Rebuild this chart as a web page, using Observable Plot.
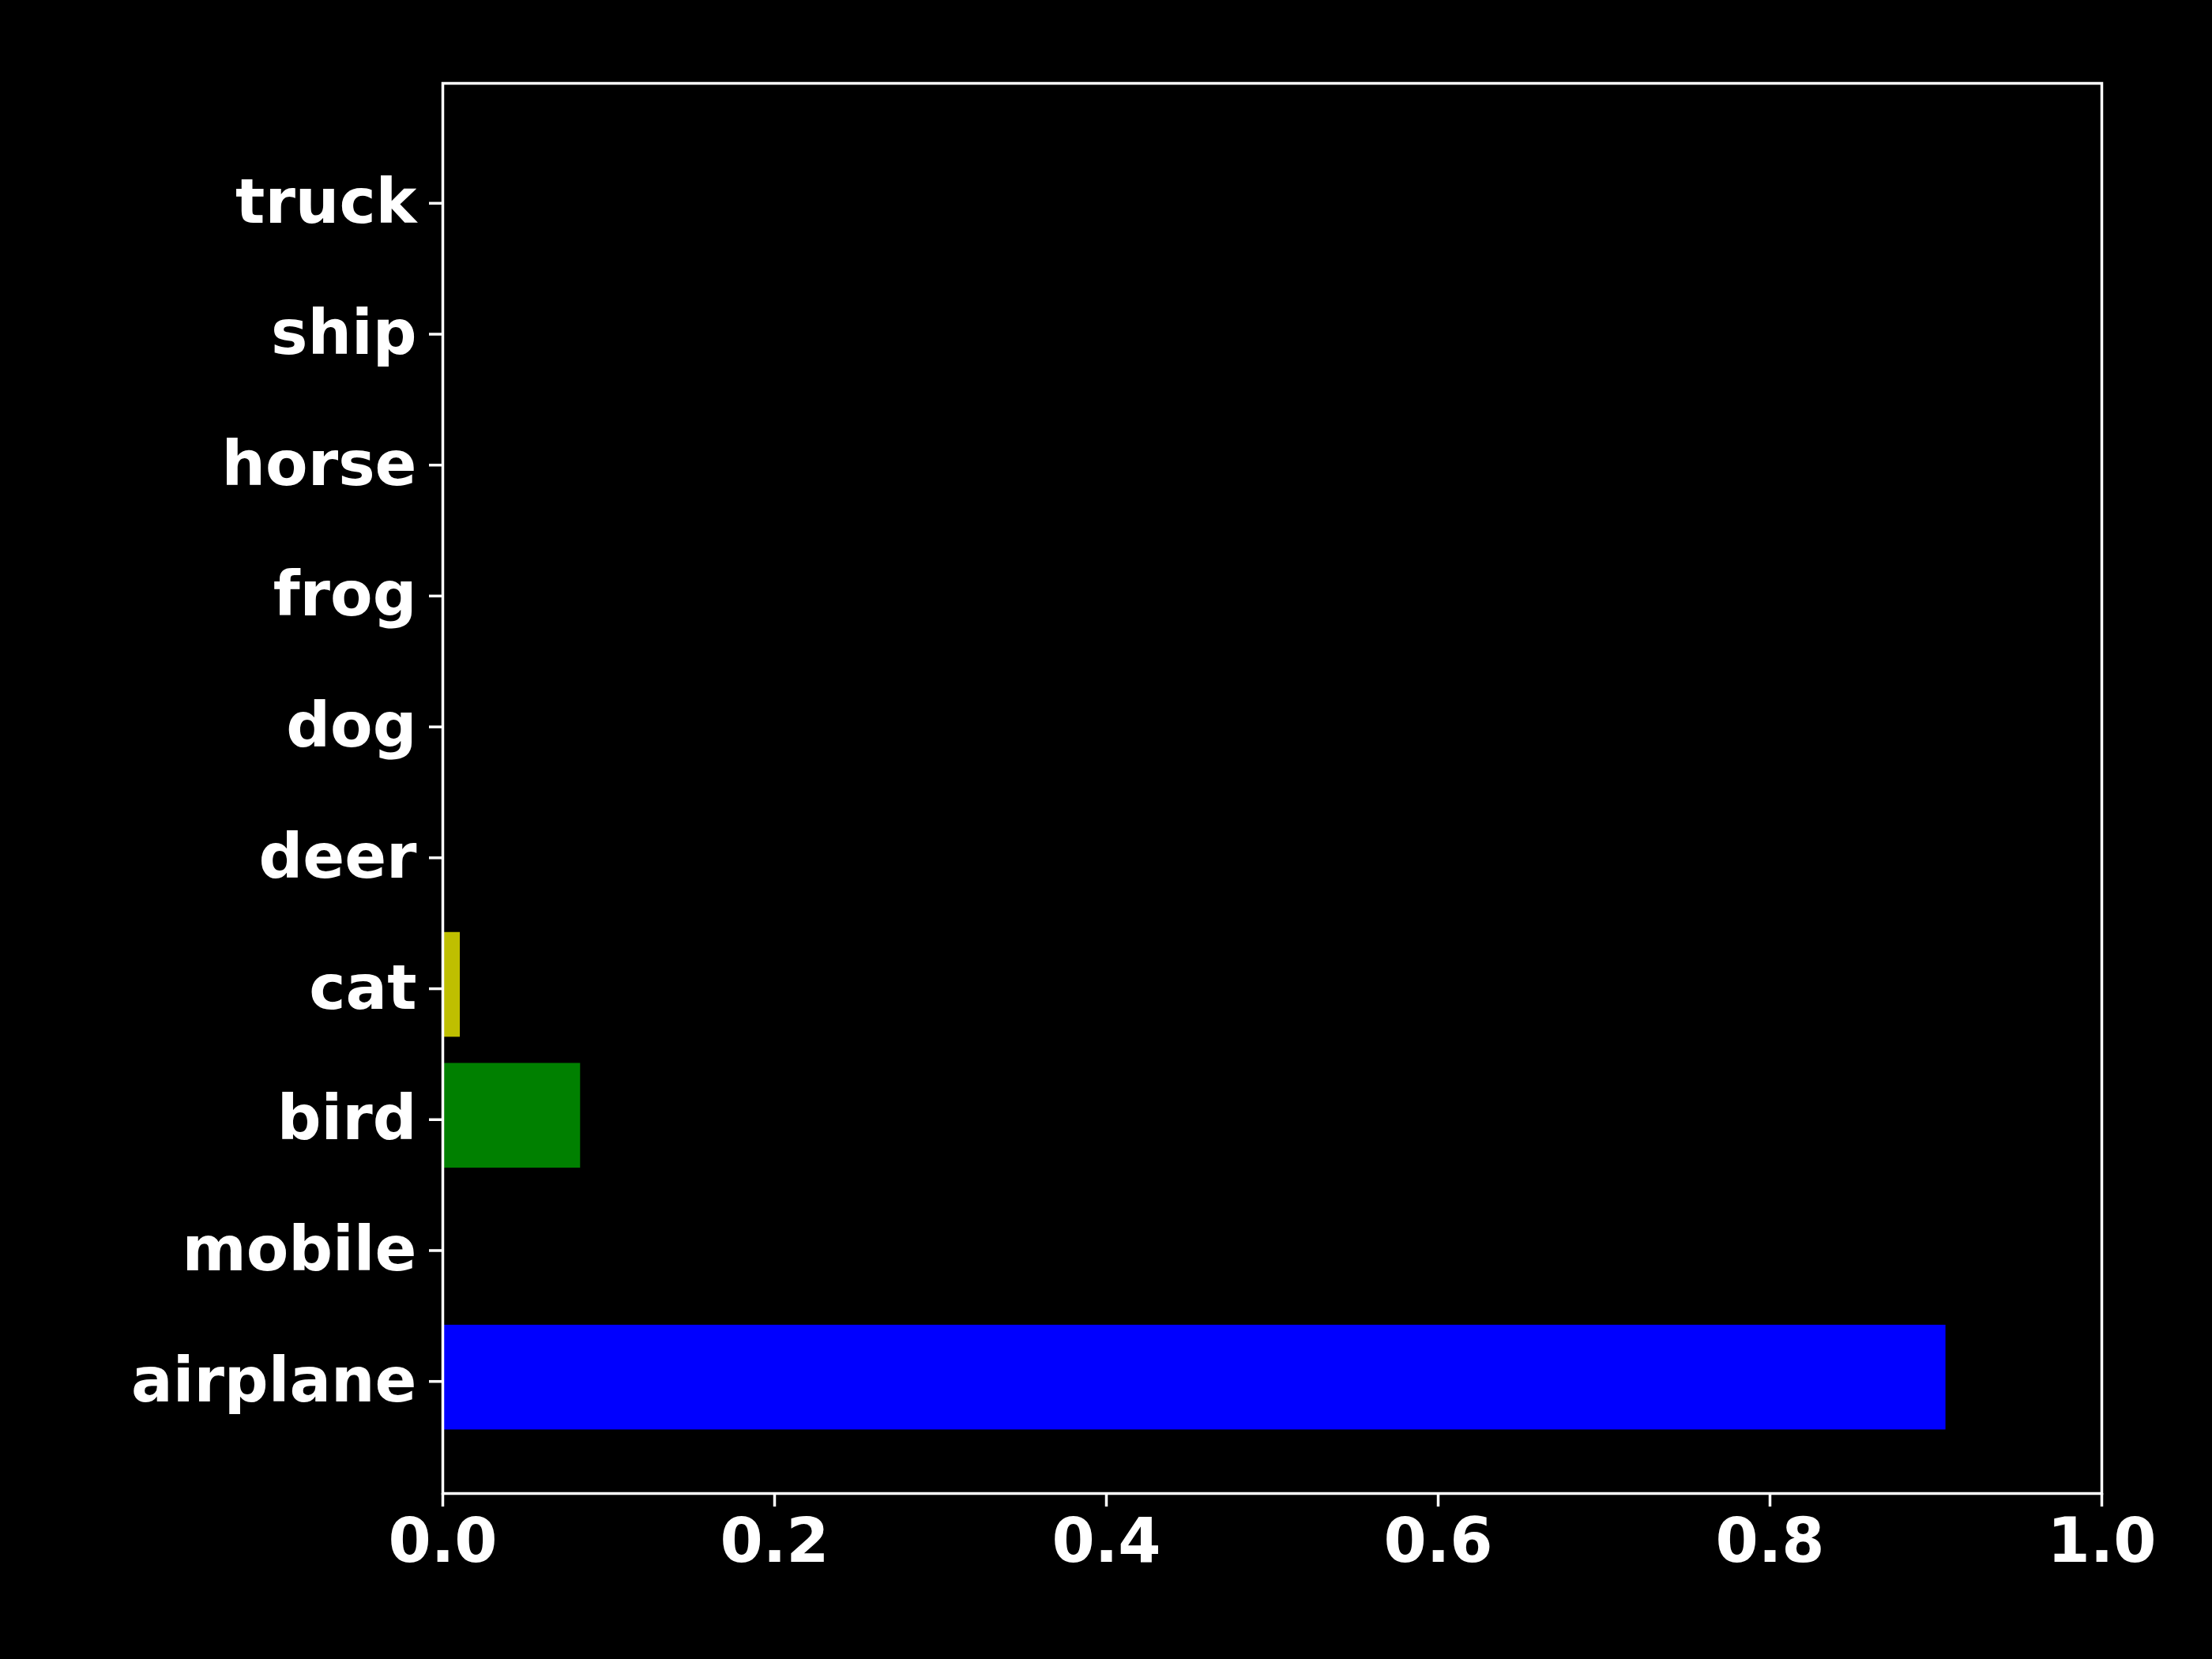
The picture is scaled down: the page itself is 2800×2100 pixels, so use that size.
<!DOCTYPE html>
<html>
<head>
<meta charset="utf-8">
<script src="https://cdn.jsdelivr.net/npm/d3@7"></script>
<script src="https://cdn.jsdelivr.net/npm/@observablehq/plot@0.6"></script>
<style>
  html, body { margin: 0; padding: 0; background: #000; }
  #chart svg { display: block; }
</style>
</head>
<body>
<div id="chart"></div>
<script>
const categories = ["airplane", "mobile", "bird", "cat", "deer", "dog", "frog", "horse", "ship", "truck"];
const probabilities = [0.906, 0, 0.083, 0.0105, 0, 0, 0, 0, 0, 0];
const barColors = ["#0000ff", "#ff0000", "#008000", "#bfbf00", "#00bfbf", "#bf00bf", "#808080", "#ff8000", "#800080", "#00ffff"];
const xTicks = [0, 0.2, 0.4, 0.6, 0.8, 1.0];

const data = categories.map((c, i) => ({category: c, value: probabilities[i], color: barColors[i]}));

const chart = Plot.plot({
  width: 2800,
  height: 2100,
  marginLeft: 560,
  marginRight: 140,
  marginTop: 105,
  marginBottom: 210,
  style: {
    background: "#000",
    color: "#fff",
    fontFamily: "'DejaVu Sans', sans-serif",
    fontSize: "78px",
    fontWeight: "bold"
  },
  x: {domain: [0, 1]},
  y: {domain: categories.slice().reverse(), paddingInner: 0.2, paddingOuter: 0.486, round: false},
  marks: [
    Plot.barX(data, {x: "value", y: "category", fill: "color"}),
    Plot.frame({stroke: "#fff", strokeWidth: 3.5}),
    Plot.axisX({ticks: xTicks, tickFormat: d => d.toFixed(1), tickSize: 17, tickPadding: 14, strokeWidth: 3.5, label: null, stroke: "#fff", fill: "#fff"}),
    Plot.axisY({tickSize: 17, tickPadding: 16, strokeWidth: 3.5, label: null, stroke: "#fff", fill: "#fff", dy: 5})
  ]
});
document.getElementById("chart").appendChild(chart);
</script>
</body>
</html>
